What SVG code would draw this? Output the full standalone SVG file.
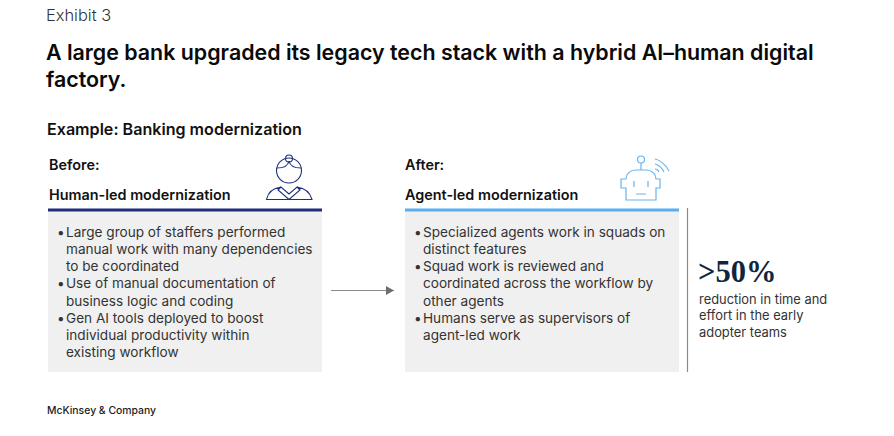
<svg xmlns="http://www.w3.org/2000/svg" width="894" height="436" viewBox="0 0 894 436">
<defs><marker id="ah" markerUnits="userSpaceOnUse" markerWidth="9" markerHeight="10" refX="8" refY="5" orient="auto"><path d="M0 0.5L8 5L0 9.5Z" fill="#6e6e6e"/></marker></defs>
<style>
text{font-family:"Inter","Liberation Sans",sans-serif;fill:#1a1a1a}
.b{font-size:13.6px;fill:#333}
.h{font-size:14.4px;font-weight:600;fill:#111}
.s{font-size:12.9px;fill:#333}
.ic1{fill:none;stroke:#1f2f7d;stroke-width:1.1}
.ic2{fill:none;stroke:#67b4f0;stroke-width:1.2}
</style>
<rect width="894" height="436" fill="#fff"/>
<text x="46" y="21" font-size="16.4" font-weight="300" style="fill:#333">Exhibit 3</text>
<text x="46" y="60" font-size="21.4" font-weight="600" style="fill:#0a0a0a">A large bank upgraded its legacy tech stack with a hybrid AI–human digital</text>
<text x="46" y="87" font-size="21.4" font-weight="600" style="fill:#0a0a0a">factory.</text>
<text x="47" y="135" font-size="16.1" font-weight="600" style="fill:#111">Example: Banking modernization</text>
<g id="before">
<text class="h" x="49" y="170">Before:</text>
<text class="h" x="49" y="200">Human-led modernization</text>
<rect x="48" y="211" width="274" height="161" fill="#f0f0f0"/>
<rect x="48" y="208.500" width="274" height="3" fill="#1f2f7d"/>
<g id="icon-human" class="ic1">
<circle cx="289" cy="170.500" r="12.500"/><circle cx="289" cy="158.500" r="3.500"/>
<path d="M277 168C284 168 288 166 289 161C290 166 294 168 301 168"/>
<path d="M266.500 199.500C268 192 274 188 281 187L289 194L297 187C304 188 310 192 312 199.500ZM281 187L278 190L289 199.500L300 190L297 187"/>
</g>
<text class="b" x="57" y="237">•<tspan x="66">Large group of staffers performed</tspan></text>
<text class="b" x="66" y="254">manual work with many dependencies</text>
<text class="b" x="66" y="271">to be coordinated</text>
<text class="b" x="57" y="288">•<tspan x="66">Use of manual documentation of</tspan></text>
<text class="b" x="66" y="306">business logic and coding</text>
<text class="b" x="57" y="323">•<tspan x="66">Gen AI tools deployed to boost</tspan></text>
<text class="b" x="66" y="340">individual productivity within</text>
<text class="b" x="66" y="357">existing workflow</text>
</g>
<g id="connectors"><path d="M331 290.500H394" fill="none" stroke="#8a8a8a" stroke-width="1.200" marker-end="url(#ah)"/></g>
<g id="after">
<text class="h" x="405" y="170">After:</text>
<text class="h" x="405" y="200">Agent-led modernization</text>
<rect x="405" y="211" width="274" height="161" fill="#f0f0f0"/>
<rect x="405" y="208.500" width="274" height="3" fill="#5aaef0"/>
<g id="icon-robot" class="ic2">
<circle cx="641" cy="159.500" r="3.500"/><path d="M641 163V170"/>
<path d="M626 179C626 174 630 170 636 170H646C652 170 656 174 656 179H660V188H656V200H626V188H621V179Z"/>
<path d="M634 181V187M648 181V187M636 194H646"/>
<path d="M655 159C660 160 665 164 669 171M655 164C659 165 662 168 664 172M655 169C657 169 658 170 659 172"/>
</g>
<text class="b" x="414" y="237">•<tspan x="423">Specialized agents work in squads on</tspan></text>
<text class="b" x="423" y="254">distinct features</text>
<text class="b" x="414" y="271">•<tspan x="423">Squad work is reviewed and</tspan></text>
<text class="b" x="423" y="288">coordinated across the workflow by</text>
<text class="b" x="423" y="306">other agents</text>
<text class="b" x="414" y="323">•<tspan x="423">Humans serve as supervisors of</tspan></text>
<text class="b" x="423" y="340">agent-led work</text>
</g>
<g id="stat">
<path d="M687.500 208V372" stroke="#8a8a8a" stroke-width="1.200" fill="none"/>
<text x="698" y="282" font-size="30.500" font-weight="700" style="font-family:'Liberation Serif',serif;fill:#10263f">&gt;50%</text>
<text class="s" x="699" y="304">reduction in time and</text>
<text class="s" x="699" y="320">effort in the early</text>
<text class="s" x="699" y="337">adopter teams</text>
</g>
<text x="47" y="414" font-size="10.400" font-weight="500" style="fill:#222">McKinsey &amp; Company</text>
</svg>
